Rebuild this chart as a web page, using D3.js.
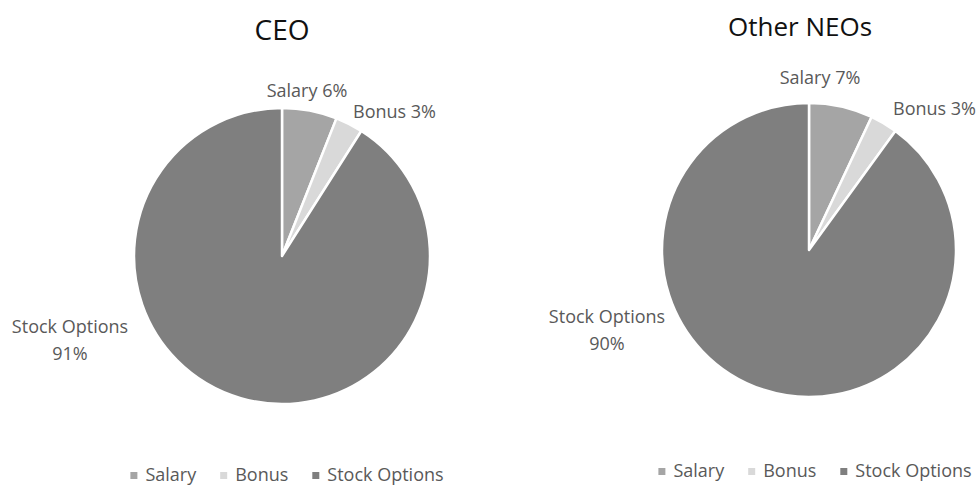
<!DOCTYPE html>
<html>
<head>
<meta charset="utf-8">
<script src="https://cdn.jsdelivr.net/npm/d3@7"></script>
<style>
  html, body { margin: 0; padding: 0; background: #fff; }
  svg { display: block; font-family: "Open Sans", sans-serif; }
</style>
</head>
<body>
<svg id="chart" width="978" height="485"></svg>
<script>
// Data.
const categories = ["Salary", "Bonus", "Stock Options"];
const ceoValues = [6, 3, 91];
const neoValues = [7, 3, 90];
const chartTitles = ["CEO", "Other NEOs"];

// Colours for each category.
const colour = d3.scaleOrdinal()
    .domain(categories)
    .range(["#a5a5a5", "#d9d9d9", "#7f7f7f"]);

// Layout of each of the two pies (kept apart from the data).
const layouts = [
    {
        cx: 282, cy: 256, r: 148,
        titleX: 282, titleY: 40, titleSize: 28,
        legendX: 287, legendY: 481,
        // label offsets from pie centre: [dx, dy, anchor]
        labels: [[25, -159, "middle"], [71, -138, "start"], [-212, 77, "middle"]]
    },
    {
        cx: 809, cy: 250, r: 147,
        titleX: 800, titleY: 36, titleSize: 26,
        legendX: 815, legendY: 477,
        labels: [[11, -166, "middle"], [84, -135, "start"], [-202, 73, "middle"]]
    }
];

const svg = d3.select("#chart");
const pie = d3.pie().sort(null).value(d => d.value);

[ceoValues, neoValues].forEach(function(values, i) {
    const lay = layouts[i];
    const rows = categories.map((c, k) => ({ cat: c, value: values[k] }));
    const arcs = pie(rows);
    const arc = d3.arc().innerRadius(0).outerRadius(lay.r);

    // Title
    svg.append("text")
        .attr("x", lay.titleX)
        .attr("y", lay.titleY)
        .attr("text-anchor", "middle")
        .attr("font-size", lay.titleSize)
        .attr("fill", "#111")
        .text(chartTitles[i]);

    // Slices
    const g = svg.append("g")
        .attr("transform", `translate(${lay.cx},${lay.cy})`);

    g.selectAll("path")
        .data(arcs)
        .join("path")
        .attr("d", arc)
        .attr("fill", d => colour(d.data.cat))
        .attr("stroke", "#fff")
        .attr("stroke-width", 2.5)
        .attr("stroke-linejoin", "round");

    // Data labels
    arcs.forEach(function(a, k) {
        const [dx, dy, anchor] = lay.labels[k];
        const t = g.append("text")
            .attr("x", dx)
            .attr("y", dy)
            .attr("text-anchor", anchor)
            .attr("font-size", 18)
            .attr("fill", "#595959");
        if (a.data.cat === "Stock Options") {
            t.append("tspan").attr("x", dx).text(a.data.cat);
            t.append("tspan").attr("x", dx).attr("dy", 27).text(a.data.value + "%");
        } else {
            t.text(`${a.data.cat} ${a.data.value}%`);
        }
    });

    // Legend, centred under the pie
    const leg = svg.append("g");
    let x = 0;
    categories.forEach(function(c, k) {
        const item = leg.append("g").attr("transform", `translate(${x},0)`);
        item.append("rect")
            .attr("x", 0)
            .attr("y", -9)
            .attr("width", 7)
            .attr("height", 7)
            .attr("fill", colour(c));
        const txt = item.append("text")
            .attr("x", 15)
            .attr("y", 0)
            .attr("font-size", 18)
            .attr("fill", "#595959")
            .text(c);
        x += 15 + txt.node().getComputedTextLength() + 24;
    });
    const legWidth = x - 24;
    leg.attr("transform", `translate(${lay.legendX - legWidth / 2},${lay.legendY})`);
});
</script>
</body>
</html>
